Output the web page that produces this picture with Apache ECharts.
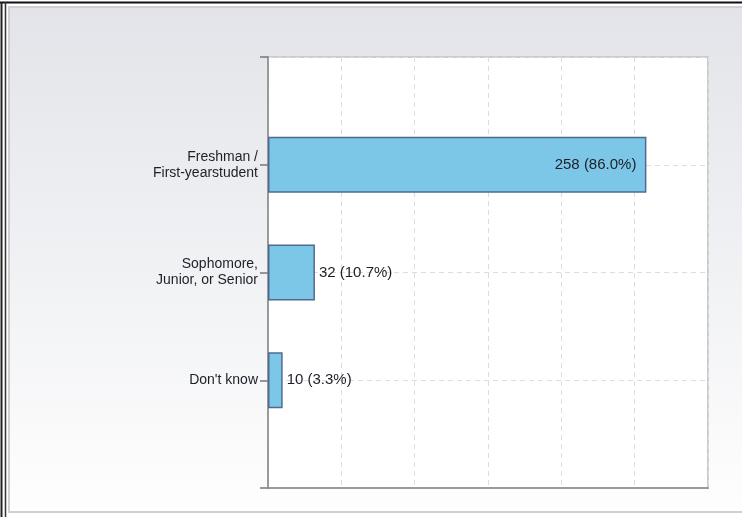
<!DOCTYPE html>
<html>
<head>
<meta charset="utf-8">
<script src="https://cdn.jsdelivr.net/npm/echarts@6/dist/echarts.min.js"></script>
<style>
html,body{margin:0;padding:0;background:#fff;}
#c{width:742px;height:517px;}
</style>
</head>
<body>
<div id="c"></div>
<script>
// Data
const categories = ['', 'Freshman /\nFirst-yearstudent', 'Sophomore,\nJunior, or Senior', "Don't know", ''];
const counts = [null, 258, 32, 10, null];
const percents = ['', '86.0%', '10.7%', '3.3%', ''];
const labelInside = [false, true, false, false, false];
const axisMax = 300;
const axisStep = 50;

const chart = echarts.init(document.getElementById('c'), null, {renderer: 'canvas'});

const seriesData = counts.map((v, i) => ({
  value: v,
  label: {
    show: v !== null,
    position: labelInside[i] ? 'insideRight' : 'right',
    distance: labelInside[i] ? 10 : 4,
    formatter: v + ' (' + percents[i] + ')'
  }
}));

const option = {
  animation: false,
  backgroundColor: '#ffffff',
  graphic: [
    {
      type: 'rect', z: -10, silent: true,
      shape: {x: 9, y: 7, width: 740, height: 505},
      style: {
        fill: new echarts.graphic.LinearGradient(0, 0, 0, 1, [
          {offset: 0, color: '#e2e4e9'},
          {offset: 1, color: '#fefefe'}
        ]),
        stroke: '#d0d0d0', lineWidth: 2
      }
    },
    {type: 'line', z: -5, silent: true, shape: {x1: 0, y1: 2.5, x2: 742, y2: 2.5}, style: {stroke: '#111', lineWidth: 2}},
    {type: 'line', z: -5, silent: true, shape: {x1: 1.5, y1: 2, x2: 1.5, y2: 517}, style: {stroke: '#222', lineWidth: 2}},
    {type: 'line', z: -5, silent: true, shape: {x1: 5.5, y1: 2, x2: 5.5, y2: 517}, style: {stroke: '#333', lineWidth: 1.5}}
  ],
  grid: {
    left: 268, right: 34, top: 57, bottom: 29,
    show: true, backgroundColor: '#ffffff', borderColor: '#cccccc', borderWidth: 2
  },
  xAxis: {
    type: 'value', min: 0, max: axisMax, interval: axisStep,
    axisLabel: {show: false},
    axisTick: {show: false},
    axisLine: {show: true, lineStyle: {color: '#9a9a9a', width: 2}},
    splitLine: {show: true, lineStyle: {color: '#dddddd', type: [5, 4], width: 1}}
  },
  yAxis: {
    type: 'category', data: categories, inverse: true, boundaryGap: false,
    axisLine: {show: true, lineStyle: {color: '#9a9a9a', width: 2}},
    axisTick: {show: true, length: 8, lineStyle: {color: '#777', width: 1.5}},
    splitLine: {show: true, lineStyle: {color: '#dddddd', type: [5, 4], width: 1}},
    axisLabel: {
      color: '#1e1e28', fontSize: 14, fontFamily: 'Liberation Sans, Arial, sans-serif',
      margin: 10, lineHeight: 16, align: 'right'
    }
  },
  series: [{
    type: 'bar',
    data: seriesData,
    barWidth: 56,
    itemStyle: {color: '#7cc7e8', borderColor: '#50698f', borderWidth: 1.5},
    label: {color: '#1e1e28', fontSize: 15, fontFamily: 'Liberation Sans, Arial, sans-serif'}
  }]
};
chart.setOption(option);
</script>
</body>
</html>
